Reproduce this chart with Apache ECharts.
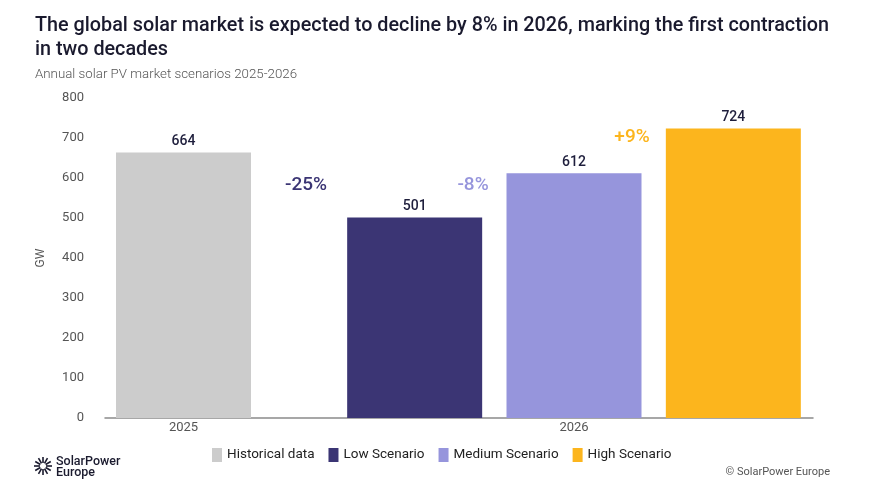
<!DOCTYPE html>
<html>
<head>
<meta charset="utf-8">
<script src="https://cdn.jsdelivr.net/npm/echarts@6/dist/echarts.min.js"></script>
<style>
  html, body { margin: 0; padding: 0; background: #fff; }
  #chart { width: 872px; height: 491px; }
</style>
</head>
<body>
<div id="chart"></div>
<script>
// data
const years = ['2025', '2026'];
const scenarios = ['Historical data', 'Low Scenario', 'Medium Scenario', 'High Scenario'];
const colors = ['#cccccc', '#3b3574', '#9695dc', '#fcb51d'];
const historical = [664];
const lowScenario = [501, '-', '-'];
const mediumScenario = ['-', 612, '-'];
const highScenario = ['-', '-', 724];
const changeLabels = ['-25%', '-8%', '+9%'];

const FONT = 'Roboto, "Noto Sans", sans-serif';
const chart = echarts.init(document.getElementById('chart'));

const valueLabel = {
  show: true, position: 'top', distance: 4,
  color: '#1e1e3c', fontSize: 14, fontFamily: FONT, fontWeight: 500
};

// sunburst logo rays
const rays = [];
for (let i = 0; i < 12; i++) {
  const a = i * Math.PI / 6;
  rays.push({
    type: 'line',
    shape: { x1: 43 + Math.cos(a) * 3, y1: 466 + Math.sin(a) * 3, x2: 43 + Math.cos(a) * 9, y2: 466 + Math.sin(a) * 9 },
    style: { stroke: '#1a1a2e', lineWidth: 1.6 }
  });
}

chart.setOption({
  animation: false,
  textStyle: { fontFamily: FONT },
  title: [
    {
      text: 'The global solar market is expected to decline by 8% in 2026, marking the first contraction\nin two decades',
      left: 30, top: 9,
      textStyle: { fontSize: 19.8, fontWeight: 500, color: '#1a1a2e', lineHeight: 24, fontFamily: FONT }
    },
    {
      text: 'Annual solar PV market scenarios 2025-2026',
      left: 30, top: 63,
      textStyle: { fontSize: 13.3, fontWeight: 300, color: '#555', fontFamily: FONT }
    }
  ],
  legend: {
    data: scenarios,
    left: 207, top: 443,
    icon: 'rect', itemWidth: 10, itemHeight: 14, itemGap: 14,
    textStyle: { fontSize: 13.5, color: '#222', fontFamily: FONT }
  },
  grid: [
    { left: 105, right: 59, top: 98, bottom: 73 },
    { left: 105, width: 157, top: 98, bottom: 73 },
    { left: 335, right: 59, top: 98, bottom: 73 }
  ],
  xAxis: [
    {
      gridIndex: 0, type: 'category', data: [''],
      axisLine: { lineStyle: { color: '#8a8a8a', width: 1.5 } },
      axisTick: { show: false }, axisLabel: { show: false }
    },
    {
      gridIndex: 1, type: 'category', data: [years[0]],
      axisLine: { show: false }, axisTick: { show: false },
      axisLabel: { color: '#555', fontSize: 13, margin: 3 }
    },
    {
      gridIndex: 2, type: 'category', data: scenarios.slice(1),
      axisLine: { show: false }, axisTick: { show: false },
      axisLabel: { color: '#555', fontSize: 13, margin: 3, interval: 0, formatter: (v, i) => i === 1 ? years[1] : '' }
    }
  ],
  yAxis: [
    {
      gridIndex: 0, type: 'value', min: 0, max: 800, interval: 100,
      name: 'GW', nameLocation: 'middle', nameGap: 58, nameRotate: 90,
      nameTextStyle: { color: '#555', fontSize: 12 },
      axisLine: { show: false }, axisTick: { show: false }, splitLine: { show: false },
      axisLabel: { color: '#555', fontSize: 13, margin: 21 }
    },
    { gridIndex: 1, type: 'value', min: 0, max: 800, show: false, splitLine: { show: false } },
    { gridIndex: 2, type: 'value', min: 0, max: 800, show: false, splitLine: { show: false } }
  ],
  series: [
    {
      name: scenarios[0], type: 'bar', xAxisIndex: 1, yAxisIndex: 1,
      data: historical, barWidth: 135, itemStyle: { color: colors[0] }, label: valueLabel
    },
    {
      name: scenarios[1], type: 'bar', xAxisIndex: 2, yAxisIndex: 2, barGap: '-100%',
      data: lowScenario, barWidth: 135, itemStyle: { color: colors[1] }, label: valueLabel
    },
    {
      name: scenarios[2], type: 'bar', xAxisIndex: 2, yAxisIndex: 2, barGap: '-100%',
      data: mediumScenario, barWidth: 135, itemStyle: { color: colors[2] }, label: valueLabel
    },
    {
      name: scenarios[3], type: 'bar', xAxisIndex: 2, yAxisIndex: 2, barGap: '-100%',
      data: highScenario, barWidth: 135, itemStyle: { color: colors[3] }, label: valueLabel
    }
  ],
  graphic: [
    // change annotations
    { type: 'text', x: 306, y: 185, style: { text: changeLabels[0], fill: colors[1], font: '500 19px ' + FONT, align: 'center', verticalAlign: 'middle' } },
    { type: 'text', x: 473, y: 185, style: { text: changeLabels[1], fill: colors[2], font: '500 19px ' + FONT, align: 'center', verticalAlign: 'middle' } },
    { type: 'text', x: 632, y: 137, style: { text: changeLabels[2], fill: colors[3], font: '500 19px ' + FONT, align: 'center', verticalAlign: 'middle' } },
    // logo
    ...rays,
    { type: 'text', x: 56, y: 456, style: { text: 'SolarPower\nEurope', fill: '#1a1a2e', font: '500 12.5px ' + FONT, lineHeight: 11 } },
    // copyright
    { type: 'text', right: 42, top: 467, style: { text: '© SolarPower Europe', fill: '#555', font: '11px ' + FONT } }
  ]
});
</script>
</body>
</html>
